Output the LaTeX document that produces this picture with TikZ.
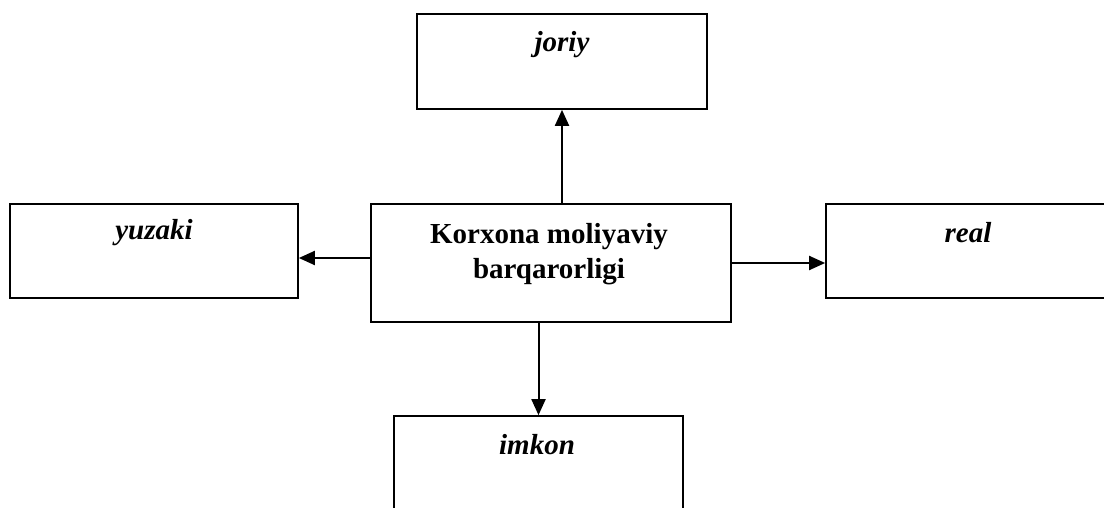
\documentclass[tikz,border=0pt]{standalone}
\usepackage{fontspec}
\setmainfont{Liberation Serif}
\usetikzlibrary{arrows.meta,calc}
\begin{document}
\begin{tikzpicture}[x=0.5pt,y=-0.5pt,
  box/.style={draw=black, line width=0.85pt, rectangle, inner sep=0pt},
  lbl/.style={font=\fontsize{14.5}{17.5}\selectfont\bfseries\itshape, inner sep=0pt},
  mainlbl/.style={font=\fontsize{14.5}{17.5}\selectfont\bfseries, align=center, inner sep=0pt},
  arr/.style={line width=1pt, -{Triangle[length=8pt,width=7pt]}}]
\useasboundingbox (0,0) rectangle (1104,508);
\clip (0,0) rectangle (1104,508);
\node[box, minimum width=290*0.5pt, minimum height=95*0.5pt] (joriy) at (562,61.5) {};
\node[lbl] (tjoriy) at (562,45) {joriy};
\node[box, minimum width=288*0.5pt, minimum height=94*0.5pt] (yuzaki) at (154,251) {};
\node[lbl] (tyuzaki) at (154,233) {yuzaki};
\node[box, minimum width=360*0.5pt, minimum height=118*0.5pt] (center) at (551,263) {};
\node[mainlbl] (tcenter) at (549,254.5) {Korxona moliyaviy\\barqarorligi};
\node[box, minimum width=284*0.5pt, minimum height=94*0.5pt] (real) at (968,251) {};
\node[lbl] (treal) at (968,233) {real};
\node[box, minimum width=289*0.5pt, minimum height=96*0.5pt] (imkon) at (538.5,464) {};
\node[lbl] (timkon) at (537,445) {imkon};
\draw[arr] (center.north -| joriy.south) -- (joriy.south);
\coordinate (lw) at ($(center.west)+(0,-5)$);
\draw[arr] (lw) -- (lw -| yuzaki.east);
\draw[arr] (center.east) -- (center.east -| real.west);
\draw[arr] (center.south -| imkon.north) -- (imkon.north);
\end{tikzpicture}
\end{document}
